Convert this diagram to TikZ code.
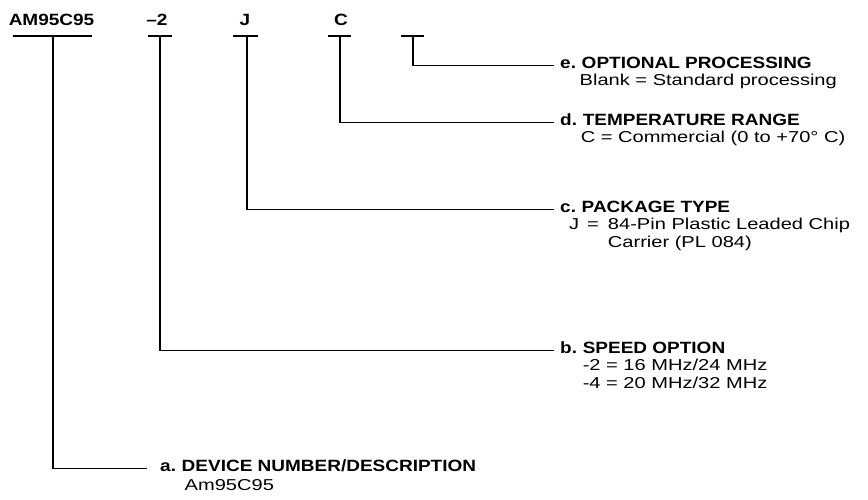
\documentclass[tikz,border=0pt]{standalone}
\usepackage{fontspec}
\setmainfont{Liberation Sans}[FakeStretch=1.27]
\newfontfamily\hdfont{Liberation Sans}[FakeStretch=1.165]
\usetikzlibrary{calc}
\begin{document}
\begin{tikzpicture}[x=1pt,y=-1pt,
  lbl/.style={inner sep=0pt, anchor=base, font=\hdfont\bfseries\fontsize{16.3}{19}\selectfont},
  hd/.style={inner sep=0pt, anchor=base west, font=\hdfont\bfseries\fontsize{16.3}{19}\selectfont},
  sub/.style={inner sep=0pt, anchor=base west, font=\fontsize{15.8}{17.5}\selectfont},
  wire/.style={line width=1.5pt, line cap=butt, line join=miter}]
\useasboundingbox (0,0) rectangle (868,499);

% top code fields
\node[lbl] (pn) at (51.5,25) {AM95C95};
\node[lbl] (sp) at (157,25) {–2};
\node[lbl] (pk) at (245,25) {J};
\node[lbl] (tr) at (341,25) {C};

% T bars
\coordinate (ta) at (53,36);
\coordinate (tb) at (160,36);
\coordinate (tc) at (247,36);
\coordinate (td) at (340,36);
\coordinate (te) at (413,36);
\draw[wire] (13,36) -- (92,36);
\draw[wire] (148,36) -- (172,36);
\draw[wire] (233,36) -- (258,36);
\draw[wire] (328,36) -- (351,36);
\draw[wire] (401,36) -- (424,36);

% headings
\node[hd] (hdE) at (560,68) {e.};
\node[hd] (tE) at ([xshift=5.3pt]hdE.base east) {OPTIONAL PROCESSING};
\node[sub] (sE) at ([xshift=-2pt,yshift=-17.5pt]tE.base west) {Blank = Standard processing};

\node[hd] (hdD) at (560,125) {d.};
\node[hd] (tD) at ([xshift=5.3pt]hdD.base east) {TEMPERATURE RANGE};
\node[sub] (sD) at ([xshift=-2pt,yshift=-17.5pt]tD.base west) {C = Commercial (0 to +70° C)};

\node[hd] (hdC) at (560,212) {c.};
\node[hd] (tC) at ([xshift=5.3pt]hdC.base east) {PACKAGE TYPE};
\node[sub] (sC) at ([xshift=9pt,yshift=-17.5pt]hdC.base west)
  {\begin{tabular}[t]{@{}l@{\hspace{8pt}}l@{\hspace{9pt}}l@{}}J & = & 84-Pin Plastic Leaded Chip\\ & & Carrier (PL 084)\end{tabular}};

\node[hd] (hdB) at (560,353) {b.};
\node[hd] (tB) at ([xshift=5.3pt]hdB.base east) {SPEED OPTION};
\node[sub] (sB) at ([xshift=0pt,yshift=-17.5pt]tB.base west)
  {\begin{tabular}[t]{@{}l@{}}-2 = 16 MHz/24 MHz\\-4 = 20 MHz/32 MHz\end{tabular}};

\node[hd] (hdA) at (160,471) {a.};
\node[hd] (tA) at ([xshift=5.3pt]hdA.base east) {DEVICE NUMBER/DESCRIPTION};
\node[sub] (sA) at ([xshift=3pt,yshift=-19pt]tA.base west) {Am95C95};

% connectors
\draw[wire, shorten >=6pt] (te) |- (hdE.mid west);
\draw[wire, shorten >=6pt] (td) |- (hdD.mid west);
\draw[wire, shorten >=6pt] (tc) |- (hdC.mid west);
\draw[wire, shorten >=6pt] (tb) |- (hdB.mid west);
\draw[wire, shorten >=13pt] (ta) |- (hdA.mid west);
\end{tikzpicture}
\end{document}
